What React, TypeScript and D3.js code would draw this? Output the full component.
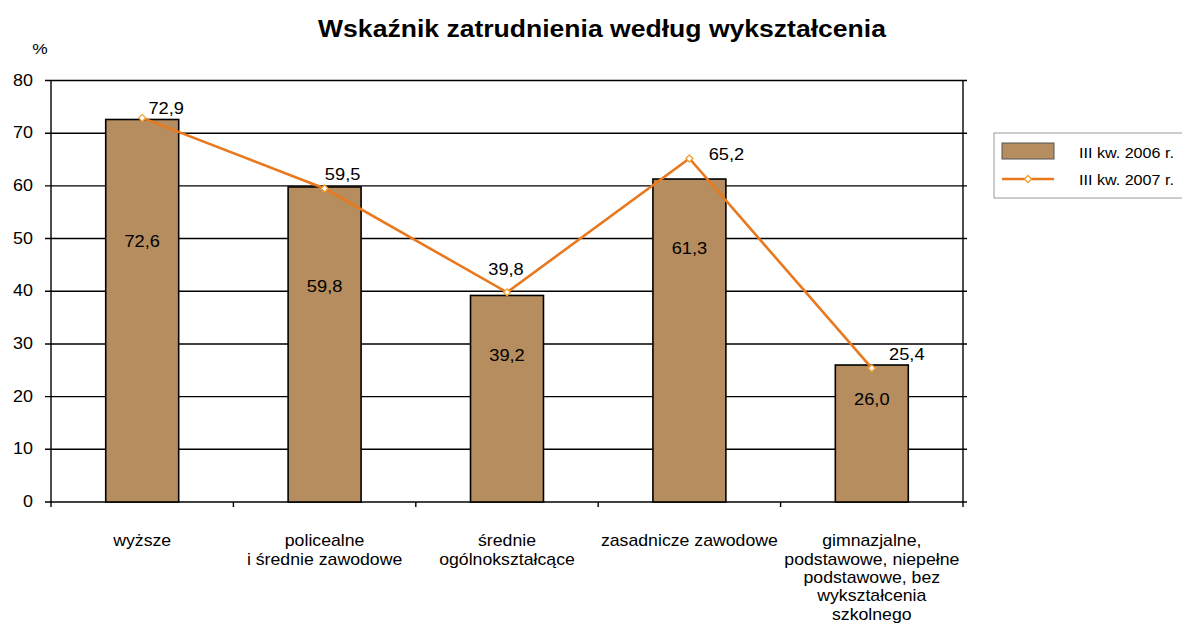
import React from "react";
import * as d3 from "d3";

const categories: string[][] = [
  ["wyższe"],
  ["policealne", "i średnie zawodowe"],
  ["średnie", "ogólnokształcące"],
  ["zasadnicze zawodowe"],
  ["gimnazjalne,", "podstawowe, niepełne", "podstawowe, bez", "wykształcenia", "szkolnego"],
];
const series2006: number[] = [72.6, 59.8, 39.2, 61.3, 26.0];
const series2007: number[] = [72.9, 59.5, 39.8, 65.2, 25.4];
const yTicks: number[] = [0, 10, 20, 30, 40, 50, 60, 70, 80];
const seriesNames = ["III kw. 2006 r.", "III kw. 2007 r."];
const title = "Wskaźnik zatrudnienia według wykształcenia";

// label placement (value units for bar labels, pixel offsets for line labels)
const barLabelAt: number[] = [49.5, 41.0, 27.9, 48.2, 19.4];
const lineLabelOffset: [number, number][] = [[24, -10], [18, -14], [-1, -23], [37, -4], [35, -14]];

const FONT = "'Liberation Sans', Arial, Helvetica, sans-serif";
const SX = 1.12;
const BAR = "#B58D5E";
const LINE = "#E8791F";

function T({ x, y, size, anchor = "middle", weight = "normal", baseline = "central", sx = SX, children }: any) {
  return (
    <g transform={`translate(${x},${y}) scale(${sx},1)`}>
      <text
        x={0}
        y={0}
        fontSize={size}
        fontFamily={FONT}
        fontWeight={weight}
        textAnchor={anchor}
        dominantBaseline={baseline}
        fill="#000"
      >
        {children}
      </text>
    </g>
  );
}

export default function App() {
  const W = 1182, H = 625;
  const left = 51, right = 963, top = 80.5, bottom = 502;
  const idx = categories.map((_, i) => String(i));
  const x = d3.scaleBand<string>().domain(idx).range([left, right]).padding(0);
  const y = d3.scaleLinear().domain([0, 80]).range([bottom, top]);
  const bw = x.bandwidth() * 0.4;
  const cx = (i: number) => (x(String(i)) as number) + x.bandwidth() / 2;

  const linePath = d3
    .line<number>()
    .x((_, i) => cx(i))
    .y((d) => y(d))(series2007) as string;

  const diamond = (px: number, py: number, r: number) =>
    `M${px},${py - r}L${px + r},${py}L${px},${py + r}L${px - r},${py}Z`;

  return (
    <svg width={W} height={H} style={{ position: "absolute", left: 0, top: 0, background: "#fff" }}>
      <rect x={0} y={0} width={W} height={H} fill="#fff" />
      <T x={602} y={37} size={23.5} weight="bold" baseline="alphabetic" sx={1.13}>
        {title}
      </T>
      <T x={40} y={48} size={15.5}>%</T>

      {/* gridlines + ticks */}
      {yTicks.map((t) => (
        <g key={t}>
          <line x1={left - 6} x2={right + 4} y1={y(t)} y2={y(t)} stroke="#000" strokeWidth={1.4} />
          <T x={33} y={y(t)} size={16} anchor="end">{t}</T>
        </g>
      ))}
      <line x1={left} x2={left} y1={top} y2={bottom + 5} stroke="#000" strokeWidth={1.4} />
      <line x1={right} x2={right} y1={top} y2={bottom + 5} stroke="#000" strokeWidth={1.4} />
      {idx.slice(1).map((k) => (
        <line key={k} x1={x(k)} x2={x(k)} y1={bottom} y2={bottom + 5} stroke="#000" strokeWidth={1.4} />
      ))}

      {/* bars */}
      {series2006.map((v, i) => (
        <rect
          key={i}
          x={cx(i) - bw / 2}
          y={y(v)}
          width={bw}
          height={bottom - y(v)}
          fill={BAR}
          stroke="#000"
          strokeWidth={1.6}
        />
      ))}
      {series2006.map((v, i) => (
        <T key={i} x={cx(i)} y={y(barLabelAt[i])} size={16.3}>
          {v.toFixed(1).replace(".", ",")}
        </T>
      ))}

      {/* line */}
      <path d={linePath} fill="none" stroke={LINE} strokeWidth={2.6} />
      {series2007.map((v, i) => (
        <path key={i} d={diamond(cx(i), y(v), 3.5)} fill="#fff" stroke="#F0A030" strokeWidth={1.3} />
      ))}
      {series2007.map((v, i) => (
        <T key={i} x={cx(i) + lineLabelOffset[i][0]} y={y(v) + lineLabelOffset[i][1]} size={16.3}>
          {v.toFixed(1).replace(".", ",")}
        </T>
      ))}

      {/* category labels */}
      {categories.map((lines, i) =>
        lines.map((ln, j) => (
          <T key={`${i}-${j}`} x={cx(i)} y={541 + j * 18.4} size={15.8}>
            {ln}
          </T>
        ))
      )}

      {/* legend */}
      <rect x={994} y={133} width={210} height={65} fill="#fff" stroke="#999" strokeWidth={1} />
      <rect x={1002} y={143} width={52} height={16} fill={BAR} stroke="#555" strokeWidth={1} />
      <T x={1079} y={153} size={14.4} anchor="start">{seriesNames[0]}</T>
      <line x1={1002} x2={1054} y1={179} y2={179} stroke={LINE} strokeWidth={2.6} />
      <path d={diamond(1028, 179, 3.5)} fill="#fff" stroke="#F0A030" strokeWidth={1.3} />
      <T x={1079} y={180} size={14.4} anchor="start">{seriesNames[1]}</T>
    </svg>
  );
}
